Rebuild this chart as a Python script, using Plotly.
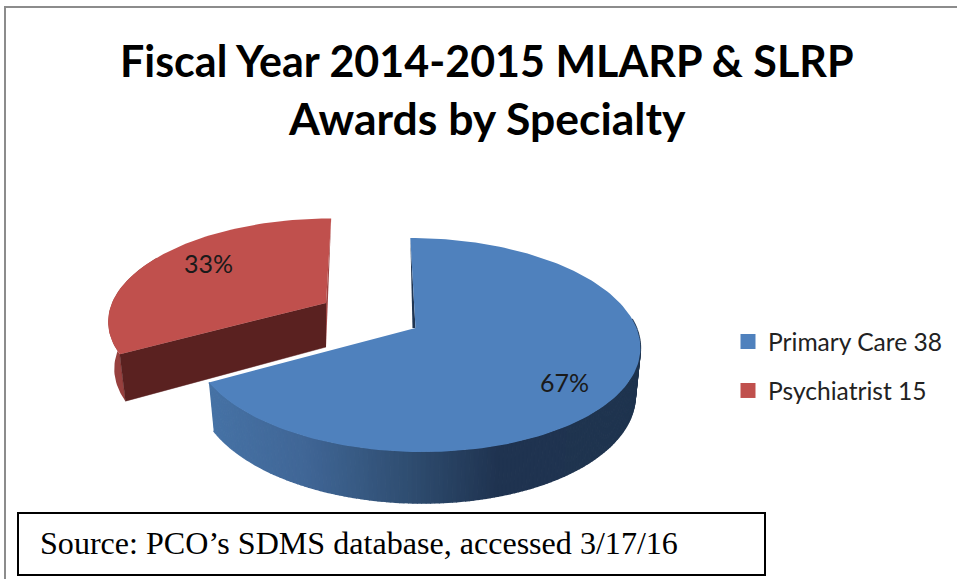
import numpy as np
import plotly.graph_objects as go

categories = ["Primary Care", "Psychiatrist"]
counts = [38, 15]
shares = [67, 33]
title_lines = ["Fiscal Year 2014-2015 MLARP &amp; SLRP", "Awards by Specialty"]
source_text = "Source: PCO’s SDMS database, accessed 3/17/16"

W, H = 957, 579
SANS = "Lato"
K = 0.159


def project(theta_deg, cx, cy, a, b, c):
    t = np.radians(np.asarray(theta_deg, dtype=float))
    u, v = np.sin(t), -np.cos(t)
    s = 1 / (1 - K * v)
    return cx + (a * u + c * v) * s, cy + b * v * s, v


def poly(x, y, color, width=0.0):
    return go.Scatter(x=list(x), y=list(y), mode="lines", fill="toself", fillcolor=color,
                      line=dict(color=color, width=width), hoverinfo="skip", showlegend=False)


def mix(stops, t):
    xs = [s[0] for s in stops]
    return "rgb({},{},{})".format(*[int(round(np.interp(t, xs, [s[1][i] for s in stops]))) for i in range(3)])


fig = go.Figure()
split = shares[0] / sum(shares) * 360

# ---- Exploded red slice
R = dict(cx=326, cy=303, a=214, b=98, c=-6)
RB = dict(cx=326, cy=303, a=208, b=98, c=-6)
th_r = np.linspace(split, 360, 80)
xr, yr, _ = project(th_r, **R)
xrb, yrb, _ = project(th_r, **RB)
yrb = yrb + 47
mask = th_r < 300
fig.add_trace(poly(np.r_[xr[mask], xrb[mask][::-1]], np.r_[yr[mask], yrb[mask][::-1]], "#97403E"))
fig.add_trace(poly([R["cx"], xr[-1], R["cx"]], [R["cy"], yr[-1], R["cy"] + 44], "#9E4442"))
fig.add_trace(poly([R["cx"], xr[0], xrb[0], R["cx"]], [R["cy"], yr[0], yrb[0], R["cy"] + 44], "#5A2120", 0.5))
fig.add_trace(poly(np.r_[R["cx"], xr], np.r_[R["cy"], yr], "#C0504D"))

# ---- Blue slice: rim with a horizontal shade, then the top face
B = dict(cx=415.5, cy=328, a=221, b=104.3, c=6)
BB = dict(cx=415.5, cy=328, a=216, b=104.3, c=6)
stops = [(0.0, (70, 114, 165)), (0.22, (64, 102, 150)), (0.45, (48, 79, 115)),
         (0.68, (31, 51, 80)), (1.0, (31, 52, 79))]
th_side = np.linspace(split, 85, 160)
xt, yt, vt = project(th_side, **B)
xb, yb, vb = project(th_side, **BB)
yb = yb + 46 + 5 * vb
for i in range(len(th_side) - 1):
    col = mix(stops, (xt[i] - xt[0]) / (xt[-1] - xt[0]))
    fig.add_trace(poly([xt[i], xt[i + 1], xb[i + 1], xb[i]], [yt[i], yt[i + 1], yb[i + 1], yb[i]], col, 1.5))

th_b = np.linspace(0, split, 160)
xb_top, yb_top, _ = project(th_b, **B)
fig.add_trace(poly([xb_top[0], B["cx"], B["cx"] - 3], [yb_top[0], B["cy"], B["cy"]], "#1F3552"))
fig.add_trace(poly(np.r_[B["cx"], xb_top], np.r_[B["cy"], yb_top], "#4F81BD"))

# ---- Legend entries
for name, n, col in zip(categories, counts, ["#4F81BD", "#C0504D"]):
    fig.add_trace(go.Scatter(x=[None], y=[None], mode="markers", name=f"{name} {n}", legendgroup=name,
                             marker=dict(symbol="square", size=15, color=col)))

ann = [
    dict(x=487, y=60, text=f"<b>{title_lines[0]}</b>", font=dict(family=SANS, size=43, color="#000")),
    dict(x=487, y=117, text=f"<b>{title_lines[1]}</b>", font=dict(family=SANS, size=44.5, color="#000")),
    dict(x=564, y=382, text=f"{shares[0]}%", font=dict(family=SANS, size=25, color="#1a1a1a")),
    dict(x=208, y=263, text=f"{shares[1]}%", font=dict(family=SANS, size=25, color="#1a1a1a")),
    dict(x=38, y=543, text=source_text, xanchor="left",
         font=dict(family="Liberation Serif", size=32.1, color="#000")),
]
for a in ann:
    a.setdefault("xanchor", "center")
    a.update(xref="x", yref="y", yanchor="middle", showarrow=False)

fig.update_layout(
    width=W, height=H, autosize=False, margin=dict(l=0, r=0, t=0, b=0),
    paper_bgcolor="white", plot_bgcolor="white",
    xaxis=dict(range=[0, W], visible=False, fixedrange=True),
    yaxis=dict(range=[H, 0], visible=False, fixedrange=True),
    annotations=ann,
    legend=dict(x=728 / W, y=1 - 319 / H, xanchor="left", yanchor="top", tracegroupgap=14,
                font=dict(family=SANS, size=24.6, color="#222"), itemwidth=30,
                bgcolor="rgba(0,0,0,0)"),
    shapes=[
        dict(type="line", xref="x", yref="y", x0=5, x1=5, y0=7, y1=H, line=dict(color="#8c8c8c", width=2)),
        dict(type="line", xref="x", yref="y", x0=4, x1=W, y0=7, y1=7, line=dict(color="#8c8c8c", width=2)),
        dict(type="rect", xref="x", yref="y", x0=18, x1=765, y0=513, y1=575,
             line=dict(color="#000", width=2), fillcolor="white", layer="below"),
    ],
)
fig.write_html("out.html", config=dict(displayModeBar=False),
               post_script="document.body.style.margin='0';document.body.style.overflow='hidden';")
